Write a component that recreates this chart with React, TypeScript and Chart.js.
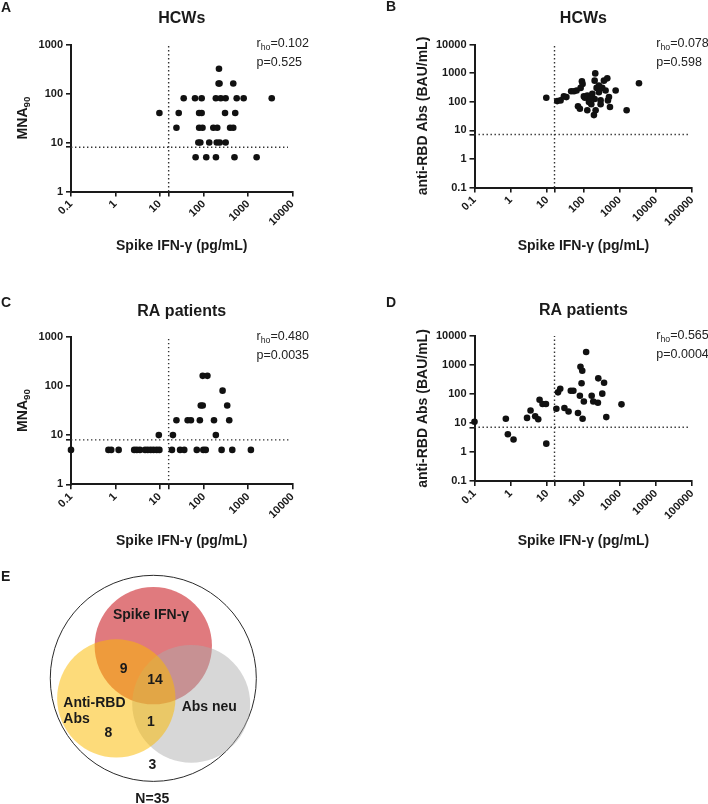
import React, { useEffect, useRef } from 'react';
import { Chart, registerables } from 'chart.js';

Chart.register(...registerables);

const FONT = 'Arial, "Liberation Sans", Helvetica, sans-serif';
const INK = '#1a1a1a';

// ---------- Data ----------
// Panel A: HCWs, Spike IFN-γ (pg/mL) vs MNA90
const hcwMnaIfn = [219, 215, 225, 460, 35, 63, 89, 186, 240, 309, 550, 790, 3400, 9.9, 27, 78, 89, 300, 510, 24, 78, 93, 163, 200, 390, 460, 75, 83, 132, 195, 228, 310, 65, 113, 187, 490, 1550];
const hcwMnaTiter = [320, 160, 160, 160, 80, 80, 80, 80, 80, 80, 80, 80, 80, 40, 40, 40, 40, 40, 40, 20, 20, 20, 20, 20, 20, 20, 10, 10, 10, 10, 10, 10, 5, 5, 5, 5, 5];

// Panel B: HCWs, Spike IFN-γ vs anti-RBD Abs (BAU/mL)
const hcwRbdIfn = [9.5, 19, 23.5, 29, 34, 46, 55, 65, 84, 91, 95, 103, 110, 71, 80, 128, 142, 176, 204, 212, 204, 231, 195, 217, 268, 298, 331, 368, 409, 455, 506, 539, 474, 773, 1552, 3396, 128, 165, 298, 268, 158];
const hcwRbdAbs = [137, 105, 111, 153, 145, 233, 233, 246, 304, 516, 418, 153, 137, 69, 57, 165, 97, 189, 124, 975, 545, 304, 34, 50, 215, 111, 304, 545, 246, 655, 145, 65, 111, 246, 50, 441, 50, 81, 81, 366, 127];

// Panel C: RA patients, Spike IFN-γ vs MNA90
const raMnaIfn = [0.1, 0.7, 0.81, 1.19, 2.67, 3.06, 3.6, 4.7, 5.4, 6.3, 7.3, 8.6, 9.9, 19, 29, 36, 69, 97, 110, 251, 437, 1150, 9.6, 20, 186, 24, 43, 51, 81, 169, 373, 85, 94, 336, 264, 94, 120];
const raMnaTiter = [5, 5, 5, 5, 5, 5, 5, 5, 5, 5, 5, 5, 5, 5, 5, 5, 5, 5, 5, 5, 5, 5, 10, 10, 10, 20, 20, 20, 20, 20, 20, 40, 40, 40, 80, 160, 160];

// Panel D: RA patients, Spike IFN-γ vs anti-RBD Abs
const raRbdIfn = [0.1, 0.73, 0.83, 1.19, 2.8, 3.5, 4.7, 5.7, 6.2, 7.5, 9.3, 9.5, 18, 20, 23, 30, 39, 45, 53, 71, 80, 83, 93, 89, 95, 103, 119, 169, 187, 251, 257, 331, 371, 427, 1120];
const raRbdAbs = [11.1, 14, 4.1, 2.7, 15, 27, 17, 13.5, 63, 45, 45, 1.94, 31, 114, 152, 33, 25, 129, 129, 22, 87, 870, 630, 234, 14, 55, 2800, 87, 55, 50, 347, 103, 245, 16, 44];

// Tick labels
const ifnTicksShort = [0.1, 1, 10, 100, 1000, 10000];
const ifnTicksLong = [0.1, 1, 10, 100, 1000, 10000, 100000];
const mnaTicks = [1, 10, 100, 1000];
const rbdTicks = [0.1, 1, 10, 100, 1000, 10000];

// Cut-offs (dotted lines)
const ifnCut = 16;
const mnaCut = 8;
const rbdCut = 7.1;

// Correlation stats
const rhoValues = ['0.102', '0.078', '0.480', '0.565'];
const pValues = ['0.525', '0.598', '0.0035', '0.0004'];

// Venn (E)
const vennNames = ['Anti-RBD Abs', 'Abs neu', 'Spike IFN-γ', 'N=35'];
const vennCx = [-0.37, 0.379, 0, 0];
const vennCy = [-0.192, -0.245, 0.314, 0];
const vennR = [0.58, 0.578, 0.575, 1.01];
const vennCounts = ['9', '14', '1', '8', '3'];
const vennCountX = [-0.296, 0.017, -0.023, -0.45, -0.01];
const vennCountY = [0.087, -0.016, -0.417, -0.523, -0.834];

// ---------- Layout ----------
type Box = { left: number; top: number; w: number; h: number };
type Area = { l: number; t: number; r: number; b: number };

interface PanelCfg {
  letter: string;
  letterPos: [number, number];
  title: string;
  yTitle: { t: string; sub?: boolean }[];
  xs: number[];
  ys: number[];
  xTicks: number[];
  yTicks: number[];
  yCut: number;
  hEnd: number;
  rho: string;
  p: string;
  box: Box;
  area: Area;
  yTitleOff: number;
  xTitleOff: number;
}

const mnaTitle = [{ t: 'MNA' }, { t: '90', sub: true }];
const rbdTitle = [{ t: 'anti-RBD Abs (BAU/mL)' }];

const panels: PanelCfg[] = [
  {
    letter: 'A', letterPos: [1, 8.5], title: 'HCWs', yTitle: mnaTitle,
    xs: hcwMnaIfn, ys: hcwMnaTiter, xTicks: ifnTicksShort, yTicks: mnaTicks, yCut: mnaCut, hEnd: 7900,
    rho: rhoValues[0], p: pValues[0],
    box: { left: 0, top: 0, w: 354, h: 270 }, area: { l: 71, t: 44.5, r: 292.5, b: 191.5 },
    yTitleOff: 48.3, xTitleOff: 54.5,
  },
  {
    letter: 'B', letterPos: [32, 7.5], title: 'HCWs', yTitle: rbdTitle,
    xs: hcwRbdIfn, ys: hcwRbdAbs, xTicks: ifnTicksLong, yTicks: rbdTicks, yCut: rbdCut, hEnd: 81000,
    rho: rhoValues[1], p: pValues[1],
    box: { left: 354, top: 0, w: 354, h: 270 }, area: { l: 474.5, t: 44.5, r: 692.3, b: 187.5 },
    yTitleOff: 51.5, xTitleOff: 59,
  },
  {
    letter: 'C', letterPos: [1, 33.3], title: 'RA patients', yTitle: mnaTitle,
    xs: raMnaIfn, ys: raMnaTiter, xTicks: ifnTicksShort, yTicks: mnaTicks, yCut: mnaCut, hEnd: 8500,
    rho: rhoValues[2], p: pValues[2],
    box: { left: 0, top: 270, w: 354, h: 280 }, area: { l: 71, t: 336.7, r: 292.5, b: 484.3 },
    yTitleOff: 48.3, xTitleOff: 56.5,
  },
  {
    letter: 'D', letterPos: [32, 33.3], title: 'RA patients', yTitle: rbdTitle,
    xs: raRbdIfn, ys: raRbdAbs, xTicks: ifnTicksLong, yTicks: rbdTicks, yCut: rbdCut, hEnd: 80000,
    rho: rhoValues[3], p: pValues[3],
    box: { left: 354, top: 270, w: 354, h: 280 }, area: { l: 474.5, t: 336, r: 692.3, b: 481 },
    yTitleOff: 51.5, xTitleOff: 60,
  },
];

const vennBox: Box = { left: 0, top: 550, w: 300, h: 254 };

// ---------- Helpers ----------
function drawRich(
  ctx: CanvasRenderingContext2D,
  parts: { t: string; sub?: boolean }[],
  x: number, y: number, size: number, weight: string,
  align: 'left' | 'center', rotated = false, color = INK,
) {
  ctx.save();
  ctx.translate(x, y);
  if (rotated) ctx.rotate(-Math.PI / 2);
  const subSize = size * 0.7;
  const widths = parts.map((p) => {
    ctx.font = `${weight} ${p.sub ? subSize : size}px ${FONT}`;
    return ctx.measureText(p.t).width;
  });
  const total = widths.reduce((a, b) => a + b, 0);
  let cx = align === 'center' ? -total / 2 : 0;
  ctx.textBaseline = 'middle';
  ctx.textAlign = 'left';
  ctx.fillStyle = color;
  parts.forEach((p, i) => {
    ctx.font = `${weight} ${p.sub ? subSize : size}px ${FONT}`;
    ctx.fillText(p.t, cx, p.sub ? size * 0.32 : 0);
    cx += widths[i];
  });
  ctx.restore();
}

function makeAxisGrid() {
  return {
    display: true,
    drawOnChartArea: false,
    drawTicks: true,
    tickLength: 5,
    color: INK,
    lineWidth: 1.6,
  };
}

function buildPanel(canvas: HTMLCanvasElement, cfg: PanelCfg) {
  const { box, area } = cfg;
  const points = cfg.xs.map((x, i) => ({ x, y: cfg.ys[i] }));
  const xMin = cfg.xTicks[0];
  const xMax = cfg.xTicks[cfg.xTicks.length - 1];
  const yMin = cfg.yTicks[0];
  const yMax = cfg.yTicks[cfg.yTicks.length - 1];
  const xTickVals = [...cfg.xTicks, ifnCut].sort((a, b) => a - b);
  const yTickVals = [...cfg.yTicks, cfg.yCut].sort((a, b) => a - b);
  const tickFont = { family: FONT, size: 11, weight: 'bold' as const };

  const textPlugin = {
    id: 'panelText' + cfg.letter,
    afterDraw(chart: any) {
      const ctx: CanvasRenderingContext2D = chart.ctx;
      const a = chart.chartArea;
      const cxm = (a.left + a.right) / 2;
      const cym = (a.top + a.bottom) / 2;
      drawRich(ctx, [{ t: cfg.letter }], cfg.letterPos[0], cfg.letterPos[1], 14, 'bold', 'left');
      drawRich(ctx, [{ t: cfg.title }], cxm, a.top - 25.5, 16, 'bold', 'center');
      drawRich(ctx, cfg.yTitle, a.left - cfg.yTitleOff, cym, 14, 'bold', 'center', true);
      drawRich(ctx, [{ t: 'Spike IFN-γ (pg/mL)' }], cxm, a.bottom + cfg.xTitleOff, 14, 'bold', 'center');
      drawRich(ctx, [{ t: 'r' }, { t: 'ho', sub: true }, { t: '=' + cfg.rho }], a.right - 36, a.top - 0.5, 12.5, 'normal', 'left', false, '#222');
      drawRich(ctx, [{ t: 'p=' + cfg.p }], a.right - 36, a.top + 18.5, 12.5, 'normal', 'left', false, '#222');
    },
  };

  return new Chart(canvas, {
    type: 'scatter',
    data: {
      datasets: [
        {
          type: 'scatter',
          data: points,
          pointRadius: 3.3,
          pointHoverRadius: 3.3,
          backgroundColor: '#111',
          borderWidth: 0,
          clip: false,
        } as any,
        {
          type: 'line',
          data: [{ x: ifnCut, y: yMin }, { x: ifnCut, y: yMax }],
          borderColor: '#333',
          borderWidth: 1.4,
          borderDash: [1.4, 2.6],
          pointRadius: 0,
          fill: false,
          clip: false,
        } as any,
        {
          type: 'line',
          data: [{ x: xMin, y: cfg.yCut }, { x: cfg.hEnd, y: cfg.yCut }],
          borderColor: '#333',
          borderWidth: 1.4,
          borderDash: [1.4, 2.6],
          pointRadius: 0,
          fill: false,
          clip: false,
        } as any,
      ],
    },
    options: {
      responsive: false,
      animation: false,
      devicePixelRatio: 1,
      events: [],
      layout: {
        padding: { left: 0, top: area.t - box.top, right: box.left + box.w - area.r, bottom: 0 },
      },
      plugins: { legend: { display: false }, tooltip: { enabled: false }, title: { display: false } },
      scales: {
        x: {
          type: 'logarithmic',
          min: xMin,
          max: xMax,
          afterBuildTicks: (ax: any) => {
            ax.ticks = xTickVals.map((v) => ({ value: v }));
          },
          afterFit: (ax: any) => {
            ax.height = box.top + box.h - area.b;
            ax.paddingLeft = 0;
            ax.paddingRight = 0;
          },
          ticks: {
            autoSkip: false,
            minRotation: 45,
            maxRotation: 45,
            padding: 1,
            color: INK,
            font: tickFont,
            callback: (v: any) => (cfg.xTicks.includes(Number(v)) ? String(v) : ''),
          },
          grid: makeAxisGrid(),
          border: { display: true, color: INK, width: 2 },
        } as any,
        y: {
          type: 'logarithmic',
          min: yMin,
          max: yMax,
          afterBuildTicks: (ax: any) => {
            ax.ticks = yTickVals.map((v) => ({ value: v }));
          },
          afterFit: (ax: any) => {
            ax.width = area.l - box.left;
            ax.paddingTop = 0;
            ax.paddingBottom = 0;
          },
          ticks: {
            autoSkip: false,
            padding: 3,
            color: INK,
            font: tickFont,
            callback: (v: any) => (cfg.yTicks.includes(Number(v)) ? String(v) : ''),
          },
          grid: makeAxisGrid(),
          border: { display: true, color: INK, width: 2 },
        } as any,
      },
    },
    plugins: [textPlugin],
  } as any);
}

function buildVenn(canvas: HTMLCanvasElement) {
  const fills = ['rgba(251,186,0,0.52)', 'rgba(172,172,172,0.48)', 'rgb(224,122,126)', 'rgba(0,0,0,0)'];
  const strokes = ['rgba(0,0,0,0)', 'rgba(0,0,0,0)', 'rgba(0,0,0,0)', '#2a2a2a'];
  const widths = [0, 0, 0, 1];

  const radiusPx = (ctx: any) => {
    const raw = ctx.raw;
    if (!raw) return 0;
    const sx = ctx.chart.scales.x;
    const sy = ctx.chart.scales.y;
    const px = Math.abs(sx.getPixelForValue(1) - sx.getPixelForValue(0));
    const py = Math.abs(sy.getPixelForValue(1) - sy.getPixelForValue(0));
    return raw.r * (px + py) / 2;
  };

  const textPlugin = {
    id: 'vennText',
    afterDraw(chart: any) {
      const ctx: CanvasRenderingContext2D = chart.ctx;
      const sx = chart.scales.x;
      const sy = chart.scales.y;
      const X = (v: number) => sx.getPixelForValue(v);
      const Y = (v: number) => sy.getPixelForValue(v);
      drawRich(ctx, [{ t: 'E' }], 1, 27.3, 14, 'bold', 'left');
      drawRich(ctx, [{ t: vennNames[2] }], X(-0.023), Y(0.61), 14, 'bold', 'center');
      drawRich(ctx, [{ t: 'Anti-RBD' }], X(-0.9), Y(-0.24), 14, 'bold', 'left');
      drawRich(ctx, [{ t: 'Abs' }], X(-0.9), Y(-0.394), 14, 'bold', 'left');
      drawRich(ctx, [{ t: vennNames[1] }], X(0.56), Y(-0.273), 14, 'bold', 'center');
      vennCounts.forEach((c, i) => {
        drawRich(ctx, [{ t: c }], X(vennCountX[i]), Y(vennCountY[i]), 14, 'bold', 'center');
      });
      drawRich(ctx, [{ t: vennNames[3] }], X(-0.01), Y(-1.163), 14, 'bold', 'center');
    },
  };

  return new Chart(canvas, {
    type: 'scatter',
    data: {
      datasets: vennNames.map((n, i) => ({
        label: n,
        data: [{ x: vennCx[i], y: vennCy[i], r: vennR[i] }],
        pointRadius: radiusPx,
        pointHoverRadius: radiusPx,
        backgroundColor: fills[i],
        borderColor: strokes[i],
        borderWidth: widths[i],
        clip: false,
      })) as any,
    },
    options: {
      responsive: false,
      animation: false,
      devicePixelRatio: 1,
      events: [],
      layout: { padding: 0 },
      plugins: { legend: { display: false }, tooltip: { enabled: false } },
      scales: {
        x: { type: 'linear', display: false, min: -1.533, max: 1.467 },
        y: { type: 'linear', display: false, min: -1.208, max: 1.234 },
      },
    },
    plugins: [textPlugin],
  } as any);
}

function PanelCanvas({ cfg }: { cfg: PanelCfg }) {
  const ref = useRef<HTMLCanvasElement | null>(null);
  useEffect(() => {
    if (!ref.current) return;
    const chart = buildPanel(ref.current, cfg);
    return () => chart.destroy();
  }, [cfg]);
  return (
    <canvas
      ref={ref}
      width={cfg.box.w}
      height={cfg.box.h}
      style={{ position: 'absolute', left: cfg.box.left, top: cfg.box.top, width: cfg.box.w, height: cfg.box.h }}
    />
  );
}

function VennCanvas() {
  const ref = useRef<HTMLCanvasElement | null>(null);
  useEffect(() => {
    if (!ref.current) return;
    const chart = buildVenn(ref.current);
    return () => chart.destroy();
  }, []);
  return (
    <canvas
      ref={ref}
      width={vennBox.w}
      height={vennBox.h}
      style={{ position: 'absolute', left: vennBox.left, top: vennBox.top, width: vennBox.w, height: vennBox.h }}
    />
  );
}

export default function App() {
  return (
    <div style={{ position: 'absolute', left: 0, top: 0, width: 708, height: 804, background: '#fff', overflow: 'hidden' }}>
      {panels.map((p) => (
        <PanelCanvas key={p.letter} cfg={p} />
      ))}
      <VennCanvas />
    </div>
  );
}
